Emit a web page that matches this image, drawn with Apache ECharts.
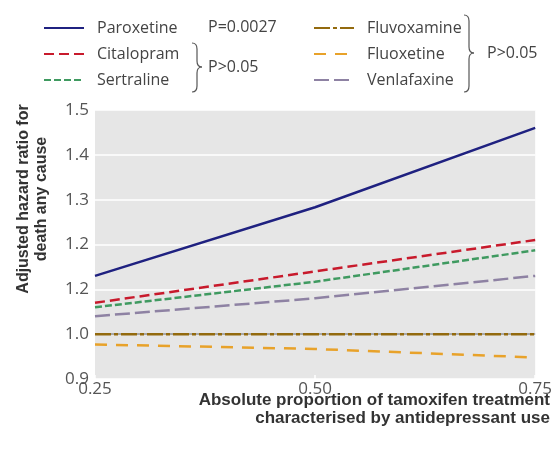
<!DOCTYPE html>
<html><head><meta charset="utf-8">
<script src="https://cdn.jsdelivr.net/npm/echarts@6/dist/echarts.min.js"></script>
<style>html,body{margin:0;padding:0;background:#fff}#c{width:555px;height:450px}</style>
</head><body><div id="c"></div>
<script>
var xValues = [0.25, 0.50, 0.75];
var xTickLabels = ['0.25', '0.50', '0.75'];
var yTickLabels = ['0.9', '1.0', '1.2', '1.2', '1.3', '1.4', '1.5'];
var paroxetine = [1.13, 1.283, 1.46];
var citalopram = [1.07, 1.14, 1.21];
var sertraline = [1.06, 1.117, 1.187];
var fluvoxamine = [1.0, 1.0, 1.0];
var fluoxetine = [0.977, 0.967, 0.948];
var venlafaxine = [1.04, 1.08, 1.13];
var referenceValue = 1.0;
var seriesNames = ['Paroxetine', 'Citalopram', 'Sertraline', 'Fluvoxamine', 'Fluoxetine', 'Venlafaxine'];
var seriesValues = [paroxetine, citalopram, sertraline, fluvoxamine, fluoxetine, venlafaxine];
var groupLabels = ['P=0.0027', 'P>0.05', 'P>0.05'];
var xTitle = 'Absolute proportion of tamoxifen treatment\ncharacterised by antidepressant use';
var yTitle = 'Adjusted hazard ratio for\ndeath any cause';

var styles = [
  {color: '#1f2180', type: 'solid'},
  {color: '#c81a2c', type: [10, 5]},
  {color: '#3f9a60', type: [7, 3]},
  {color: '#936a0e', type: [16, 3, 4, 3]},
  {color: '#e8a22a', type: [12, 9]},
  {color: '#8e82a3', type: [15, 5]}
];
var pairs = function (vals) { return xValues.map(function (x, i) { return [x, vals[i]]; }); };
var series = seriesNames.map(function (n, i) {
  var s = {
    name: n, type: 'line', data: pairs(seriesValues[i]), symbol: 'none', showSymbol: false,
    lineStyle: {color: styles[i].color, width: 2.5, type: styles[i].type},
    itemStyle: {color: styles[i].color}, z: i === 3 ? 3 : 2, animation: false
  };
  if (i === 3) {
    s.markLine = {silent: true, symbol: 'none', label: {show: false}, z: 1,
      lineStyle: {color: '#8c8c8c', width: 1.5, type: 'solid'}, data: [{yAxis: referenceValue}]};
  }
  return s;
});
function brace(x, y0, y1, ym, w) {
  var st = {stroke: '#555', lineWidth: 1.2, fill: 'none'};
  var xm = x + w / 2, xe = x + w, r = 6;
  return [
    {type: 'bezierCurve', shape: {x1: x, y1: y0, cpx1: xm, cpy1: y0, x2: xm, y2: y0 + r}, style: st},
    {type: 'line', shape: {x1: xm, y1: y0 + r, x2: xm, y2: ym - r}, style: st},
    {type: 'bezierCurve', shape: {x1: xm, y1: ym - r, cpx1: xm, cpy1: ym, x2: xe, y2: ym}, style: st},
    {type: 'bezierCurve', shape: {x1: xe, y1: ym, cpx1: xm, cpy1: ym, x2: xm, y2: ym + r}, style: st},
    {type: 'line', shape: {x1: xm, y1: ym + r, x2: xm, y2: y1 - r}, style: st},
    {type: 'bezierCurve', shape: {x1: xm, y1: y1 - r, cpx1: xm, cpy1: y1, x2: x, y2: y1}, style: st}
  ];
}
var font = "'Open Sans', sans-serif";
var titleFont = "'Liberation Sans', Arial, sans-serif";
var graphics = [
  {type: 'text', x: 208, y: 27, style: {text: groupLabels[0], fill: '#444', font: '16px ' + font, textVerticalAlign: 'middle'}},
  {type: 'text', x: 208, y: 67, style: {text: groupLabels[1], fill: '#444', font: '16px ' + font, textVerticalAlign: 'middle'}},
  {type: 'text', x: 487, y: 53, style: {text: groupLabels[2], fill: '#444', font: '16px ' + font, textVerticalAlign: 'middle'}},
  {type: 'text', x: 550, y: 391, style: {text: xTitle, fill: '#333', font: 'bold 17px ' + titleFont, textAlign: 'right', lineHeight: 18}},
  {type: 'text', x: 33, y: 199, rotation: Math.PI / 2, style: {text: yTitle, fill: '#333', font: 'bold 16px ' + titleFont, textAlign: 'center', textVerticalAlign: 'middle', lineHeight: 18}}
].concat(brace(192, 43, 92, 67, 10)).concat(brace(464, 15, 92, 53, 10));

var legendCommon = {
  orient: 'vertical', top: 20, padding: 0, itemWidth: 40, itemHeight: 14, itemGap: 10,
  itemStyle: {color: 'transparent', borderWidth: 0, opacity: 0},
  textStyle: {color: '#444', fontSize: 16, fontFamily: font, lineHeight: 14, padding: [0, 0, 0, 8]}
};
var chart = echarts.init(document.getElementById('c'), null, {renderer: 'canvas'});
chart.setOption({
  animation: false,
  grid: {left: 95, right: 18, top: 110, bottom: 71, show: true, backgroundColor: '#e6e6e6', borderWidth: 0},
  xAxis: {
    type: 'value', min: 0.25, max: 0.75, interval: 0.25,
    axisLine: {show: false},
    axisTick: {show: true, inside: true, length: 4, lineStyle: {color: '#fff', width: 1.5}},
    splitLine: {show: false},
    axisLabel: {color: '#555', fontSize: 17, fontFamily: font, margin: 2,
      formatter: function (v) { var i = xValues.indexOf(v); return i >= 0 ? xTickLabels[i] : ''; }}
  },
  yAxis: {
    type: 'value', min: 0.9, max: 1.5, interval: 0.1,
    axisLine: {show: false}, axisTick: {show: false},
    splitLine: {show: true, lineStyle: {color: '#fff', width: 1.5}},
    axisLabel: {color: '#555', fontSize: 17, fontFamily: font, margin: 6,
      formatter: function (v) { var i = Math.round((v - 0.9) * 10); return yTickLabels[i] || ''; }}
  },
  legend: [
    Object.assign({data: seriesNames.slice(0, 3), left: 43}, legendCommon),
    Object.assign({data: seriesNames.slice(3), left: 313}, legendCommon)
  ],
  graphic: graphics,
  series: series
});
</script></body></html>
